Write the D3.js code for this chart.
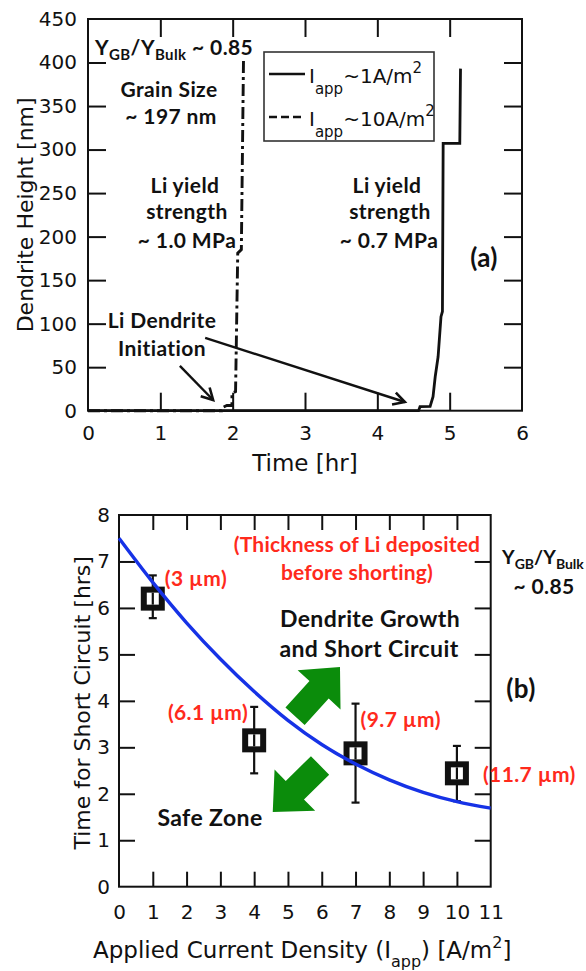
<!DOCTYPE html>
<html><head><meta charset="utf-8">
<script src="https://cdn.jsdelivr.net/npm/d3@7"></script>
<style>body{margin:0;background:#fff}svg{display:block}</style>
</head><body>
<svg id="c" width="586" height="971"></svg>
<script>
// ---------- DATA (panel a) ----------
const timeTicks = [0, 1, 2, 3, 4, 5, 6];
const heightTicks = [0, 50, 100, 150, 200, 250, 300, 350, 400, 450];
const lowCurrentTime   = [0, 4.57, 4.59, 4.73, 4.77, 4.80, 4.84, 4.88, 4.90, 4.91, 5.14, 5.15];
const lowCurrentHeight = [0, 0,    4.6,  5,    16,   39,   62,   108,  114,  307,  307,  393];
const highCurrentTime   = [0, 1.85, 1.87, 1.92, 1.99, 1.99, 2.04, 2.07, 2.12, 2.15];
const highCurrentHeight = [0, 0,    4,    6,    6,    20,   22,   181,  185,  405];
const legendLabels = ["~1A/m", "~10A/m"];

// ---------- DATA (panel b) ----------
const currentTicks = [0, 1, 2, 3, 4, 5, 6, 7, 8, 9, 10, 11];
const shortTicks = [0, 1, 2, 3, 4, 5, 6, 7, 8];
const pointCurrent = [1, 4, 7, 10];
const pointTime    = [6.20, 3.15, 2.87, 2.44];
const pointLow     = [5.78, 2.44, 1.81, 1.84];
const pointHigh    = [6.70, 3.87, 3.94, 3.03];
const pointLabels  = ["(3 µm)", "(6.1 µm)", "(9.7 µm)", "(11.7 µm)"];
const fitCurrent = [0, 1, 2, 3, 4, 5, 6, 7, 8, 9, 10, 11];
const fitTime    = [7.50, 6.55, 5.68, 4.90, 4.20, 3.58, 3.06, 2.64, 2.30, 2.03, 1.83, 1.69];

// ---------- STYLE ----------
const AX = "DejaVu Sans, Arial, sans-serif";
const BD = "Lato, 'Open Sans', sans-serif";
const RED = "#ff2a1c", BLUE = "#1632e6", GREEN = "#0b8c0b", INK = "#111";

const svg = d3.select("#c");

function styleAxis(g, hide) {
  g.select(".domain").remove();
  g.selectAll(".tick line").attr("stroke", INK).attr("stroke-width", 2);
  g.selectAll(".tick").filter(d => hide.includes(d)).select("line").remove();
  g.selectAll(".tick text").attr("font-family", AX).attr("font-size", 20).attr("fill", INK);
}
const fmt = d3.format("d");

// ================= PANEL A =================
const xa = d3.scaleLinear().domain([0, 6]).range([88, 522]);
const ya = d3.scaleLinear().domain([0, 450]).range([410.7, 19]);

const gA = svg.append("g");
gA.append("g").attr("transform", `translate(0,${ya(0)})`)
  .call(d3.axisBottom(xa).tickValues(timeTicks).tickFormat(fmt).tickSizeInner(-18).tickSizeOuter(0).tickPadding(15))
  .call(g => styleAxis(g, [0, 6]));
gA.append("g").attr("transform", `translate(0,${ya(450)})`)
  .call(d3.axisTop(xa).tickValues(timeTicks).tickSizeInner(-18).tickSizeOuter(0).tickFormat(""))
  .call(g => styleAxis(g, [0, 6]));
gA.append("g").attr("transform", `translate(${xa(0)},0)`)
  .call(d3.axisLeft(ya).tickValues(heightTicks).tickFormat(fmt).tickSizeInner(-18).tickSizeOuter(0).tickPadding(11))
  .call(g => styleAxis(g, [0, 450]));
gA.append("g").attr("transform", `translate(${xa(6)},0)`)
  .call(d3.axisRight(ya).tickValues(heightTicks).tickSizeInner(-18).tickSizeOuter(0).tickFormat(""))
  .call(g => styleAxis(g, [0, 450]));

const lineA = d3.line().x(d => xa(d[0])).y(d => ya(d[1]));
gA.append("path").datum(highCurrentTime.map((t, i) => [t, highCurrentHeight[i]]))
  .attr("d", lineA).attr("fill", "none").attr("stroke", INK).attr("stroke-width", 2.9)
  .attr("stroke-dasharray", "12,4,3,4");
gA.append("path").datum(lowCurrentTime.map((t, i) => [t, lowCurrentHeight[i]]))
  .attr("d", lineA).attr("fill", "none").attr("stroke", INK).attr("stroke-width", 2.8);

gA.append("rect").attr("x", xa(0)).attr("y", ya(450)).attr("width", xa(6) - xa(0)).attr("height", ya(0) - ya(450))
  .attr("fill", "none").attr("stroke", INK).attr("stroke-width", 2);

// axis titles
gA.append("text").attr("x", 305).attr("y", 471).attr("text-anchor", "middle")
  .attr("font-family", AX).attr("font-size", 23).attr("fill", INK).text("Time [hr]");
gA.append("text").attr("transform", `translate(33,${(ya(0) + ya(450)) / 2}) rotate(-90)`).attr("text-anchor", "middle")
  .attr("font-family", AX).attr("font-size", 22).attr("fill", INK).text("Dendrite Height [nm]");

// legend
const lg = gA.append("g");
lg.append("rect").attr("x", 264).attr("y", 52).attr("width", 170).attr("height", 89)
  .attr("fill", "#fff").attr("stroke", "#333").attr("stroke-width", 1.6);
legendLabels.forEach((lab, i) => {
  const yy = 74 + i * 43;
  lg.append("line").attr("x1", 269).attr("x2", 305).attr("y1", yy).attr("y2", yy)
    .attr("stroke", INK).attr("stroke-width", 2.6).attr("stroke-dasharray", i ? "8,4" : null);
  const t = lg.append("text").attr("x", 309).attr("y", yy + 9).attr("font-family", AX).attr("font-size", 20).attr("fill", INK);
  t.append("tspan").text("I");
  t.append("tspan").attr("dy", 11).attr("font-size", 15).text("app");
  t.append("tspan").attr("dy", -11).text(lab);
  t.append("tspan").attr("dy", -10).attr("font-size", 15).text("2");
});

// annotations
function bold(g, x, y, s, size, anchor, color) {
  return g.append("text").attr("x", x).attr("y", y).attr("text-anchor", anchor || "middle")
    .attr("font-family", BD).attr("font-weight", 700).attr("font-size", size).attr("letter-spacing", 0.4)
    .attr("fill", color || INK).text(s);
}
function ratio(g, x, y, anchor, size, subSize, ls) {
  const t = g.append("text").attr("x", x).attr("y", y).attr("text-anchor", anchor)
    .attr("font-family", BD).attr("font-weight", 700).attr("font-size", size).attr("letter-spacing", ls).attr("fill", INK);
  t.append("tspan").text("Y");
  t.append("tspan").attr("dy", 5).attr("font-size", subSize).text("GB");
  t.append("tspan").attr("dy", -5).text("/Y");
  t.append("tspan").attr("dy", 5).attr("font-size", subSize).text("Bulk");
  return t;
}
const r1 = ratio(gA, 95, 55, "start", 21, 15, 0.4);
r1.append("tspan").attr("dy", -5).text(" ~ 0.85");
bold(gA, 169, 97, "Grain Size", 21);
bold(gA, 171, 124, "~ 197 nm", 21);
bold(gA, 185, 193, "Li yield", 21);
bold(gA, 187, 219, "strength", 21);
bold(gA, 187, 248, "~ 1.0 MPa", 21);
bold(gA, 387, 193, "Li yield", 21);
bold(gA, 390, 219, "strength", 21);
bold(gA, 389, 248, "~ 0.7 MPa", 21);
bold(gA, 484, 267, "(a)", 26);
bold(gA, 162, 328, "Li Dendrite", 21);
bold(gA, 162, 356, "Initiation", 21);

// initiation arrows (data coordinates: time, height)
const initArrows = [[[1.27, 51.4], [1.73, 12.3]], [[1.62, 83.6], [4.38, 10]]];
initArrows.forEach(([a, b]) => {
  const x1 = xa(a[0]), y1 = ya(a[1]), x2 = xa(b[0]), y2 = ya(b[1]);
  const ang = Math.atan2(y2 - y1, x2 - x1), L = 13, sp = 0.5;
  gA.append("line").attr("x1", x1).attr("y1", y1).attr("x2", x2).attr("y2", y2).attr("stroke", INK).attr("stroke-width", 2.4);
  gA.append("path").attr("d",
    `M${x2 - L * Math.cos(ang - sp)},${y2 - L * Math.sin(ang - sp)}L${x2},${y2}L${x2 - L * Math.cos(ang + sp)},${y2 - L * Math.sin(ang + sp)}`)
    .attr("fill", "none").attr("stroke", INK).attr("stroke-width", 2.6);
});

// ================= PANEL B =================
const xb = d3.scaleLinear().domain([0, 11]).range([119, 490.7]);
const yb = d3.scaleLinear().domain([0, 8]).range([886.7, 515]);
const gB = svg.append("g");

gB.append("g").attr("transform", `translate(0,${yb(0)})`)
  .call(d3.axisBottom(xb).tickValues(currentTicks).tickFormat(fmt).tickSizeInner(-15).tickSizeOuter(0).tickPadding(18))
  .call(g => styleAxis(g, [0, 11]));
gB.append("g").attr("transform", `translate(0,${yb(8)})`)
  .call(d3.axisTop(xb).tickValues(currentTicks).tickSizeInner(-15).tickSizeOuter(0).tickFormat(""))
  .call(g => styleAxis(g, [0, 11]));
gB.append("g").attr("transform", `translate(${xb(0)},0)`)
  .call(d3.axisLeft(yb).tickValues(shortTicks).tickFormat(fmt).tickSizeInner(-16).tickSizeOuter(0).tickPadding(9))
  .call(g => styleAxis(g, [0, 8]));
gB.append("g").attr("transform", `translate(${xb(11)},0)`)
  .call(d3.axisRight(yb).tickValues(shortTicks).tickSizeInner(-16).tickSizeOuter(0).tickFormat(""))
  .call(g => styleAxis(g, [0, 8]));

gB.append("rect").attr("x", xb(0)).attr("y", yb(8)).attr("width", xb(11) - xb(0)).attr("height", yb(0) - yb(8))
  .attr("fill", "none").attr("stroke", INK).attr("stroke-width", 2);

// green block arrows (data coordinates: current, time)
const zoneArrows = [[[5.21, 3.67], [6.54, 4.73]], [[5.95, 2.61], [4.55, 1.61]]];
zoneArrows.forEach(([a, b]) => {
  const x1 = xb(a[0]), y1 = yb(a[1]), x2 = xb(b[0]), y2 = yb(b[1]);
  const L = Math.hypot(x2 - x1, y2 - y1), ang = Math.atan2(y2 - y1, x2 - x1) * 180 / Math.PI;
  const w = 13, H = 29, h = 31;
  gB.append("polygon")
    .attr("points", [[0, -w], [L - h, -w], [L - h, -H], [L, 0], [L - h, H], [L - h, w], [0, w]].map(p => p.join(",")).join(" "))
    .attr("transform", `translate(${x1},${y1}) rotate(${ang})`).attr("fill", GREEN);
});

// error bars + squares
const pts = pointCurrent.map((c, i) => ({c, t: pointTime[i], lo: pointLow[i], hi: pointHigh[i], lab: pointLabels[i]}));
const eb = gB.append("g");
pts.forEach(p => {
  const cx = xb(p.c);
  eb.append("line").attr("x1", cx).attr("x2", cx).attr("y1", yb(p.lo)).attr("y2", yb(p.hi)).attr("stroke", INK).attr("stroke-width", 2.2);
  [p.lo, p.hi].forEach(v => eb.append("line").attr("x1", cx - 4).attr("x2", cx + 4).attr("y1", yb(v)).attr("y2", yb(v)).attr("stroke", INK).attr("stroke-width", 2.2));
  eb.append("rect").attr("x", cx - 9).attr("y", yb(p.t) - 9).attr("width", 18).attr("height", 18)
    .attr("fill", "#fff").attr("stroke", INK).attr("stroke-width", 6);
  eb.append("line").attr("x1", cx).attr("x2", cx).attr("y1", yb(p.t) - 6).attr("y2", yb(p.t) + 6).attr("stroke", INK).attr("stroke-width", 2.2);
});

// fitted curve
gB.append("path").datum(fitCurrent.map((c, i) => [c, fitTime[i]]))
  .attr("d", d3.line().x(d => xb(d[0])).y(d => yb(d[1])).curve(d3.curveMonotoneX))
  .attr("fill", "none").attr("stroke", BLUE).attr("stroke-width", 3.4);

// point labels
const labOff = [[12, -13, "start"], [-6, -20, "end"], [5, -26, "start"], [26, 9, "start"]];
pts.forEach((p, i) => bold(gB, xb(p.c) + labOff[i][0], yb(p.t) + labOff[i][1], p.lab, 21, labOff[i][2], RED));

bold(gB, 357, 552, "(Thickness of Li deposited", 21, "middle", RED).attr("letter-spacing", 0.2);
bold(gB, 357, 580, "before shorting)", 21, "middle", RED).attr("letter-spacing", 0.2);
bold(gB, 370, 627, "Dendrite Growth", 23);
bold(gB, 369, 657, "and Short Circuit", 23);
bold(gB, 210, 826, "Safe Zone", 23);
bold(gB, 521, 698, "(b)", 26);
ratio(gB, 502, 564, "start", 19.5, 14, 0);
bold(gB, 544, 594, "~ 0.85", 21);

// axis titles
gB.append("text").attr("transform", `translate(90,${(yb(0) + yb(8)) / 2 + 2}) rotate(-90)`).attr("text-anchor", "middle")
  .attr("font-family", AX).attr("font-size", 22).attr("fill", INK).text("Time for Short Circuit [hrs]");
const bt = gB.append("text").attr("x", 93).attr("y", 958).attr("font-family", AX).attr("font-size", 23).attr("fill", INK);
bt.append("tspan").text("Applied Current Density (I");
bt.append("tspan").attr("dy", 9).attr("font-size", 16).text("app");
bt.append("tspan").attr("dy", -9).text(") [A/m");
bt.append("tspan").attr("dy", -10).attr("font-size", 16).text("2");
bt.append("tspan").attr("dy", 10).text("]");
</script>
</body></html>
